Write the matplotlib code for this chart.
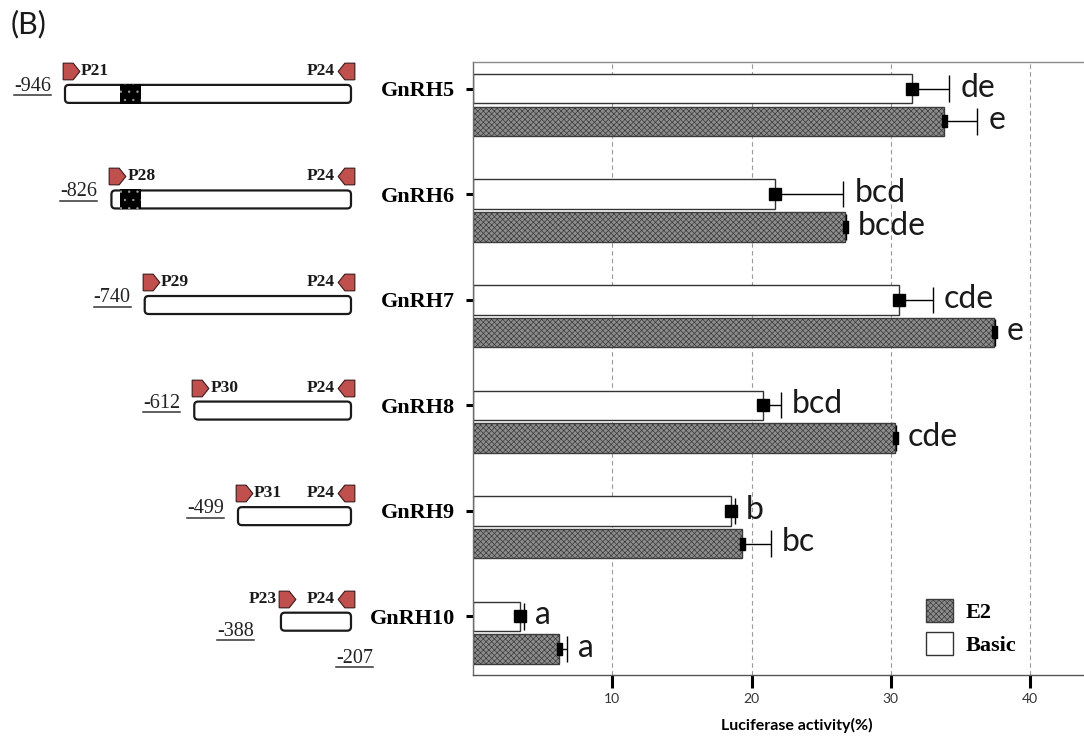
import matplotlib
matplotlib.use('Agg')
import matplotlib.pyplot as plt
from matplotlib.patches import FancyBboxPatch, Rectangle, Patch
from matplotlib.lines import Line2D
import numpy as np

# ---------------- data ----------------
constructs = ['GnRH5', 'GnRH6', 'GnRH7', 'GnRH8', 'GnRH9', 'GnRH10']
basic = [31.5, 21.7, 30.6, 20.8, 18.5, 3.35]
basic_err = [2.7, 4.9, 2.4, 1.3, 0.3, 0.3]
e2 = [33.8, 26.7, 37.4, 30.3, 19.3, 6.15]
e2_err = [2.4, 0.1, 0.1, 0.1, 2.1, 0.6]
basic_letters = ['de', 'bcd', 'cde', 'bcd', 'b', 'a']
e2_letters = ['e', 'bcde', 'e', 'cde', 'bc', 'a']
x_ticks = [10, 20, 30, 40]
x_label = 'Luciferase activity(%)'
series_names = ['E2', 'Basic']

promoter_starts = [-946, -826, -740, -612, -499, -388]
promoter_end = -207
forward_primers = ['P21', 'P28', 'P29', 'P30', 'P31', 'P23']
reverse_primer = 'P24'
element_region = (-805, -750)

# ---------------- layout ----------------
W, H = 1084, 739
plt.rcParams['hatch.linewidth'] = 0.5
fig = plt.figure(figsize=(W / 100, H / 100), dpi=100)
ax_l, ax_t, ax_b = 473, 61.7, 675
ax = fig.add_axes([ax_l / W, 1 - ax_b / H, 1 - ax_l / W, (ax_b - ax_t) / H])

n = len(constructs)
y = np.arange(n)
off = 0.155
bh = 0.28
e2_face = '#8c8c8c'
e2_edge = '#3c3c3c'
e2_hatch = 'xxxxxx'

ax.barh(y - off, basic, height=bh, color='white', edgecolor='#333333',
        linewidth=1.0, zorder=2)
ax.barh(y + off, e2, height=bh, color=e2_face, edgecolor=e2_edge,
        hatch=e2_hatch, linewidth=1.0, zorder=2)

cap_h = 0.125
for yy, vals, errs in [(y - off, basic, basic_err), (y + off, e2, e2_err)]:
    hi = np.add(vals, errs)
    ax.hlines(yy, vals, hi, color='black', lw=1.0, zorder=3)
    ax.vlines(hi, yy - cap_h, yy + cap_h, color='black', lw=1.0, zorder=3)

ax.plot(basic, y - off, ls='none', marker='s', ms=8, color='black', zorder=4)
rect_marker = [(-0.2, -0.5), (0.2, -0.5), (0.2, 0.5), (-0.2, 0.5), (-0.2, -0.5)]
ax.plot(e2, y + off, ls='none', marker=rect_marker, ms=9, color='black', zorder=4)

gap = 0.8
lt = dict(fontsize=23, family='Lato', va='baseline', ha='left', color='#1a1a1a')
for i in range(n):
    ax.text(basic[i] + basic_err[i] + gap, y[i] - off + 0.075, basic_letters[i], **lt)
    ax.text(e2[i] + e2_err[i] + gap, y[i] + off + 0.075, e2_letters[i], **lt)

ax.set_xlim(0, (W - ax_l) / 13.925)
ax.set_ylim(5.40, -0.41)
ax.set_xticks(x_ticks)
ax.set_xticklabels([str(t) for t in x_ticks], family='Lato', fontsize=10, color='#333333')
ax.set_yticks(y - off)
ax.set_yticklabels(constructs, family='Liberation Serif', fontweight='bold', fontsize=16)
ax.tick_params(axis='y', length=5, width=2.2, pad=8, color='black')
ax.tick_params(axis='x', length=9, width=2.2, pad=4, color='black')
ax.xaxis.grid(True, ls=(0, (4, 3)), color='#9a9a9a', lw=0.8)
ax.set_axisbelow(True)
ax.spines['right'].set_visible(False)
ax.spines['left'].set_color('#6b6b6b')
ax.spines['top'].set_color('#8a8a8a')
ax.spines['bottom'].set_color('#555555')
for s in ['left', 'top', 'bottom']:
    ax.spines[s].set_linewidth(1.0)

ax.set_xlabel(x_label, family='Lato', fontweight='bold', fontsize=11.5)
ax.xaxis.set_label_coords((797 - ax_l) / (W - ax_l), (ax_b - 718) / (ax_b - ax_t))

handles = [Patch(facecolor=e2_face, edgecolor=e2_edge, hatch=e2_hatch, lw=1.0),
           Patch(facecolor='white', edgecolor='#333333', lw=1.0)]
ax.legend(handles, series_names, loc='upper left',
          bbox_to_anchor=(926 / W, 1 - 599 / H), bbox_transform=fig.transFigure,
          frameon=False, prop={'family': 'Liberation Serif', 'weight': 'bold', 'size': 16},
          handlelength=1.2, handleheight=1.23, handletextpad=0.6,
          labelspacing=0.4, borderpad=0, borderaxespad=0)

fig.text(11 / W, 1 - 24 / H, '(B)', fontsize=22, family='Lato', va='center', ha='left',
         color='#1a1a1a')

# ---------------- promoter diagram ----------------
px_per_bp = 0.387
x_ref_px = 65  # position of the longest construct start
pos0 = ax.get_position()
ax0 = fig.add_axes([0, pos0.y0, ax_l / W, pos0.height])
ax0.set_xlim(promoter_starts[0] - x_ref_px / px_per_bp,
             promoter_starts[0] + (ax_l - x_ref_px) / px_per_bp)
ax0.set_ylim(ax.get_ylim())
ax0.axis('off')

y_per_px = (5.40 + 0.41) / (ax_b - ax_t)
bp_per_px = 1 / px_per_bp
box_h = 18 * y_per_px
aspect = y_per_px / bp_per_px
primer_dy = 23 * y_per_px

fwd_marker = [(-0.5, -0.5), (0.1, -0.5), (0.5, 0), (0.1, 0.5), (-0.5, 0.5), (-0.5, -0.5)]
rev_marker = [(-x, yv) for x, yv in fwd_marker]
primer_red = '#c0504d'
pos_texts = []

for i in range(n):
    s = promoter_starts[i]
    yc = y[i] - off + 0.05
    box = FancyBboxPatch((s, yc - box_h / 2), promoter_end - s, box_h,
                         boxstyle='round,pad=0,rounding_size=10',
                         mutation_aspect=aspect, fc='white', ec='#1a1a1a',
                         lw=1.6, zorder=2)
    ax0.add_patch(box)
    if s <= element_region[0]:
        ax0.add_patch(Rectangle((element_region[0], yc - box_h / 2 - 1.0 * y_per_px),
                                element_region[1] - element_region[0], box_h + 2 * y_per_px,
                                fc='black', ec='#9a9a9a', hatch='..', lw=0, zorder=3))
    py = yc - primer_dy
    fx = s + 6 * bp_per_px
    rx = promoter_end - 5 * bp_per_px
    ax0.plot([fx], [py], ls='none', marker=fwd_marker, ms=12, mfc=primer_red,
             mec='#3a1a1a', mew=0.8, zorder=4)
    ax0.plot([rx], [py], ls='none', marker=rev_marker, ms=12, mfc=primer_red,
             mec='#3a1a1a', mew=0.8, zorder=4)
    pfont = dict(family='Liberation Serif', fontweight='bold', fontsize=12.5,
                 va='center', color='#1a1a1a')
    last = (i == n - 1)
    if last:
        ax0.text(fx - 10 * bp_per_px, py, forward_primers[i], ha='right', **pfont)
    else:
        ax0.text(fx + 10 * bp_per_px, py, forward_primers[i], ha='left', **pfont)
    ax0.text(rx - 11 * bp_per_px, py, reverse_primer, ha='right', **pfont)

    lfont = dict(family='Liberation Serif', fontsize=14.5, va='baseline', color='#222222')
    if last:
        t = ax0.text(s - 27 * bp_per_px, yc + 14 * y_per_px, str(s), ha='right', **lfont)
        pos_texts.append(t)
        t = ax0.text(promoter_end + 22 * bp_per_px, yc + 41 * y_per_px, str(promoter_end),
                     ha='right', **lfont)
        pos_texts.append(t)
    else:
        t = ax0.text(s - 14 * bp_per_px, yc - 3 * y_per_px, str(s), ha='right', **lfont)
        pos_texts.append(t)

# underline the position labels
fig.canvas.draw()
renderer = fig.canvas.get_renderer()
inv = fig.transFigure.inverted()
for t in pos_texts:
    bb = t.get_window_extent(renderer=renderer)
    (x0, y0), (x1, _) = inv.transform([(bb.x0, bb.y0 + 0.5), (bb.x1, bb.y0 + 0.5)])
    fig.add_artist(Line2D([x0, x1], [y0, y0], transform=fig.transFigure,
                          color='#333333', lw=1.1))

fig.savefig('out.png', dpi=100)
